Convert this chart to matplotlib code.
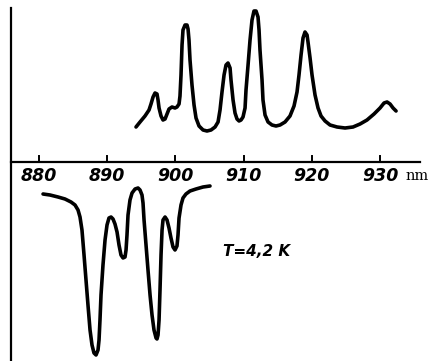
import matplotlib
matplotlib.use('Agg')
import matplotlib.pyplot as plt

# emission spectrum (upper curve), wavelength nm / intensity (arb.)
em_nm = [894.22, 894.81, 895.54, 896.13, 896.42, 896.72, 897.01, 897.30, 897.45, 897.60,
         897.89, 898.18, 898.48, 898.77, 899.06, 899.50, 899.94, 900.23, 900.53, 900.67,
         900.82, 900.97, 901.11, 901.41, 901.70, 901.85, 901.99, 902.14, 902.43, 902.73,
         903.02, 903.46, 904.05, 904.63, 905.22, 905.81, 906.25, 906.54, 906.83, 907.13,
         907.42, 907.71, 908.01, 908.15, 908.45, 908.74, 909.03, 909.33, 909.62, 909.91,
         910.21, 910.35, 910.65, 910.94, 911.23, 911.52, 911.82, 912.11, 912.26, 912.40,
         912.70, 912.84, 913.14, 913.58, 914.16, 914.75, 915.34, 916.07, 916.80, 917.39,
         917.83, 918.12, 918.42, 918.71, 919.00, 919.30, 919.44, 919.74, 920.03, 920.47,
         920.91, 921.35, 921.94, 922.67, 923.70, 924.87, 926.04, 927.07, 928.09, 929.12,
         930.00, 930.59, 931.03, 931.47, 931.91, 932.35]
em_int = [35, 40, 46, 52, 58, 65, 69, 68, 62, 54,
          46, 42, 43, 48, 53, 55, 54, 55, 58, 66,
          87, 117, 132, 137, 137, 133, 122, 102, 77, 57,
          44, 36, 32, 31, 32, 35, 40, 52, 70, 87,
          97, 99, 94, 82, 62, 49, 43, 41, 42, 45,
          54, 72, 97, 122, 142, 151, 151, 145, 132, 112,
          82, 62, 47, 40, 37, 36, 37, 40, 46, 56,
          70, 87, 107, 124, 130, 127, 120, 104, 87, 67,
          54, 46, 41, 37, 35, 34, 35, 38, 42, 48,
          54, 59, 60, 58, 54, 51]

# absorption spectrum (lower curve)
ab_nm = [880.59, 881.61, 882.79, 883.81, 884.69, 885.28, 885.72, 886.01, 886.30, 886.60,
         886.89, 887.18, 887.48, 887.77, 888.06, 888.36, 888.65, 888.80, 888.94, 889.09,
         889.38, 889.68, 889.97, 890.26, 890.56, 890.85, 891.14, 891.44, 891.73, 892.02,
         892.32, 892.61, 892.76, 892.90, 893.05, 893.34, 893.64, 894.08, 894.52, 894.81,
         895.10, 895.25, 895.40, 895.69, 895.98, 896.28, 896.57, 896.86, 897.16, 897.30,
         897.45, 897.60, 897.74, 897.89, 898.04, 898.18, 898.48, 898.77, 899.06, 899.35,
         899.65, 899.94, 900.23, 900.38, 900.53, 900.82, 901.11, 901.55, 902.14, 903.02,
         904.05, 905.07]
ab_int = [-32, -33, -35, -37, -40, -43, -48, -55, -68, -93,
          -118, -143, -168, -183, -191, -193, -188, -178, -158, -133,
          -103, -78, -63, -56, -55, -57, -62, -70, -83, -93,
          -96, -95, -88, -73, -53, -38, -31, -27, -26, -28,
          -33, -41, -58, -83, -108, -133, -153, -168, -176, -177,
          -173, -158, -128, -93, -68, -58, -55, -58, -66, -76,
          -85, -88, -84, -73, -56, -43, -36, -32, -29, -27,
          -25, -24]

ticks = [880, 890, 900, 910, 920, 930]

fig = plt.figure(figsize=(4.32, 3.61), dpi=100)
ax = fig.add_axes([0, 0, 1, 1])
ax.set_xlim(874.28, 937.62)
ax.set_ylim(-199, 162)
ax.axis('off')

lw = 2.6
ax.plot(em_nm, em_int, color='black', lw=lw, solid_joinstyle='round', solid_capstyle='round')
ax.plot(ab_nm, ab_int, color='black', lw=lw, solid_joinstyle='round', solid_capstyle='round')

# axes drawn by hand like the original figure
ax.plot([875.9, 875.9], [154, -199], color='black', lw=1.6)
ax.plot([875.9, 935.9], [0, 0], color='black', lw=1.6)
for t in ticks:
    ax.plot([t, t], [0, 6], color='black', lw=1.4)
    ax.text(t, -13.5, str(t), ha='center', va='center', fontsize=12.5,
            style='italic', fontweight='bold')
ax.text(933.8, -13.5, 'nm', ha='left', va='center', fontsize=10.5, family='DejaVu Serif')
ax.text(907.0, -90, 'T=4,2 K', ha='left', va='center', fontsize=11,
        style='italic', fontweight='bold')

fig.savefig('out.png', dpi=100)
